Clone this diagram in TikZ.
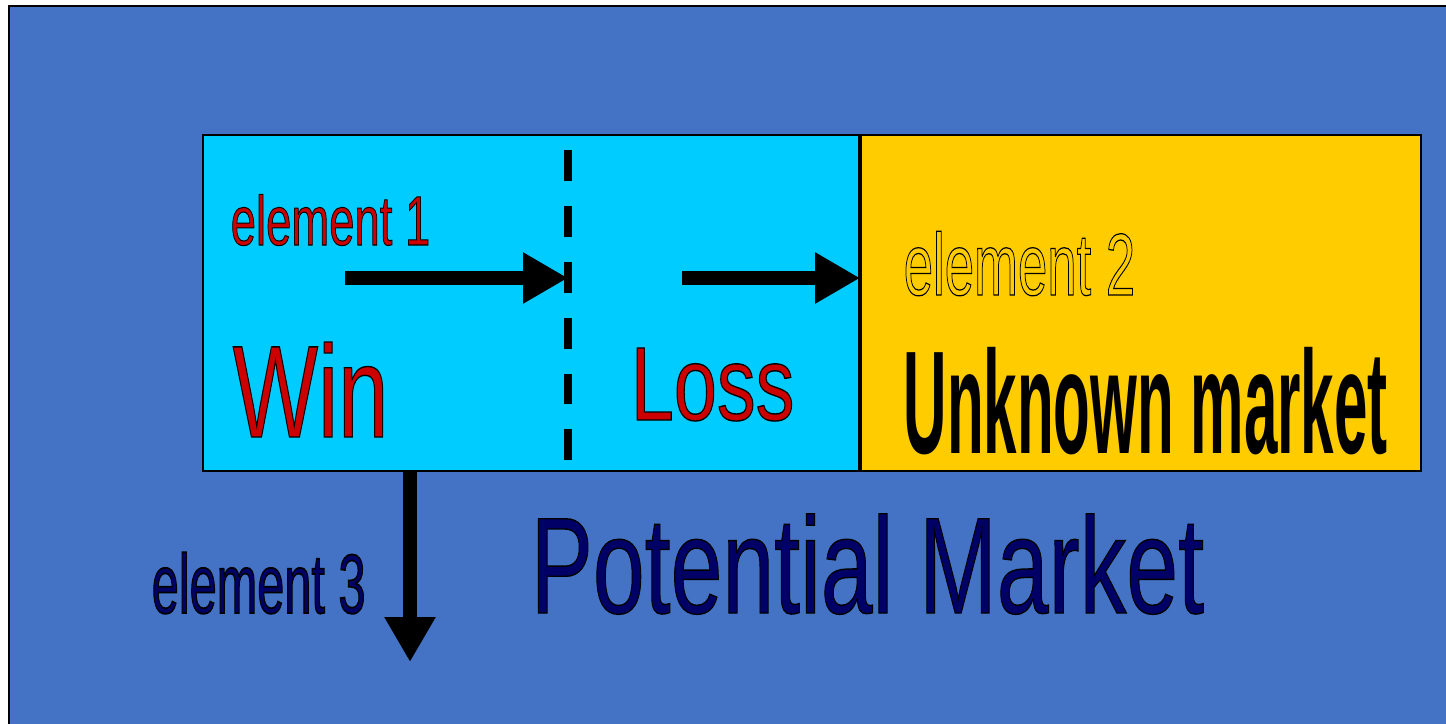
\documentclass[tikz,border=0pt]{standalone}
\usepackage{fontspec}
\setmainfont{Liberation Sans}
\usetikzlibrary{arrows.meta}

\definecolor{bgblue}{RGB}{68,114,196}
\definecolor{wincyan}{RGB}{0,204,255}
\definecolor{unkgold}{RGB}{255,204,0}
\definecolor{lossred}{RGB}{204,0,0}
\definecolor{potnavy}{RGB}{0,0,102}

% filled letters with a black rim (fill+stroke render mode)
\newcommand{\rimtext}[3]{{\color{#1}%
  \special{pdf:literal direct 2 Tr 0 0 0 RG #2 w}#3%
  \special{pdf:literal direct 0 Tr}}}
\newcommand{\narrow}[2]{\scalebox{#1}[1]{#2}}

\tikzset{marketbox/.style={draw, line width=0.6pt, anchor=north west,
  inner sep=0, minimum height=3.36cm}}
\tikzset{bigarrow/.style={line width=4pt,
  -{Triangle[length=12.8pt, width=13.7pt]}}}
\tikzset{lbl/.style={anchor=base west, inner sep=0}}

\begin{document}
\begin{tikzpicture}[x=0.1mm, y=-0.1mm]
\useasboundingbox (0,0) rectangle (1446,723);
\clip (0,0) rectangle (1446,723);

\fill [bgblue, draw=black, line width=0.8pt] (9,6) rectangle (1460,740);

\node [marketbox, fill=wincyan, minimum width=6.56cm] (win) at (202,134) {};
\node [marketbox, fill=unkgold, minimum width=5.6cm] (unk) at (win.north east) {};

\draw [line width=2pt, dash pattern=on 8.8pt off 7.1pt] (568,150) -- (568,462);

\coordinate (e1) at (345,278);
\coordinate (cut) at (568,278);
\coordinate (e2) at (682,278);
\coordinate (e3) at (410,662);

\draw [bigarrow] (e1) -- (cut);
\draw [bigarrow] (e2) -- (e2 -| unk.west);
\draw [bigarrow] (e3 |- win.south) -- (e3);

\node [lbl] (el1) at (230,245) {\fontsize{19.9}{20}\selectfont\narrow{0.65}{\rimtext{lossred}{0.3}{element 1}}};
\node [lbl] (wintxt) at (232,437) {\fontsize{37.3}{38}\selectfont\narrow{0.69}{\rimtext{lossred}{0.4}{Win}}};
\node [lbl] (losstxt) at (630,420) {\fontsize{29.8}{30}\selectfont\narrow{0.74}{\rimtext{lossred}{0.4}{Loss}}};
\node [lbl] (el2) at (903,295) {\fontsize{25}{26}\selectfont\narrow{0.6}{\rimtext{unkgold}{0.35}{element 2}}};
\node [lbl] (unktxt) at (903,453) {\fontsize{41.7}{42}\selectfont\bfseries\narrow{0.41}{Unknown market}};
\node [lbl] (el3) at (151,613) {\fontsize{23.9}{24}\selectfont\narrow{0.58}{\rimtext{potnavy}{0.5}{element 3}}};
\node [lbl] (pottxt) at (530,613) {\fontsize{39}{40}\selectfont\narrow{0.68}{\rimtext{potnavy}{0.4}{Potential Market}}};

\end{tikzpicture}
\end{document}
